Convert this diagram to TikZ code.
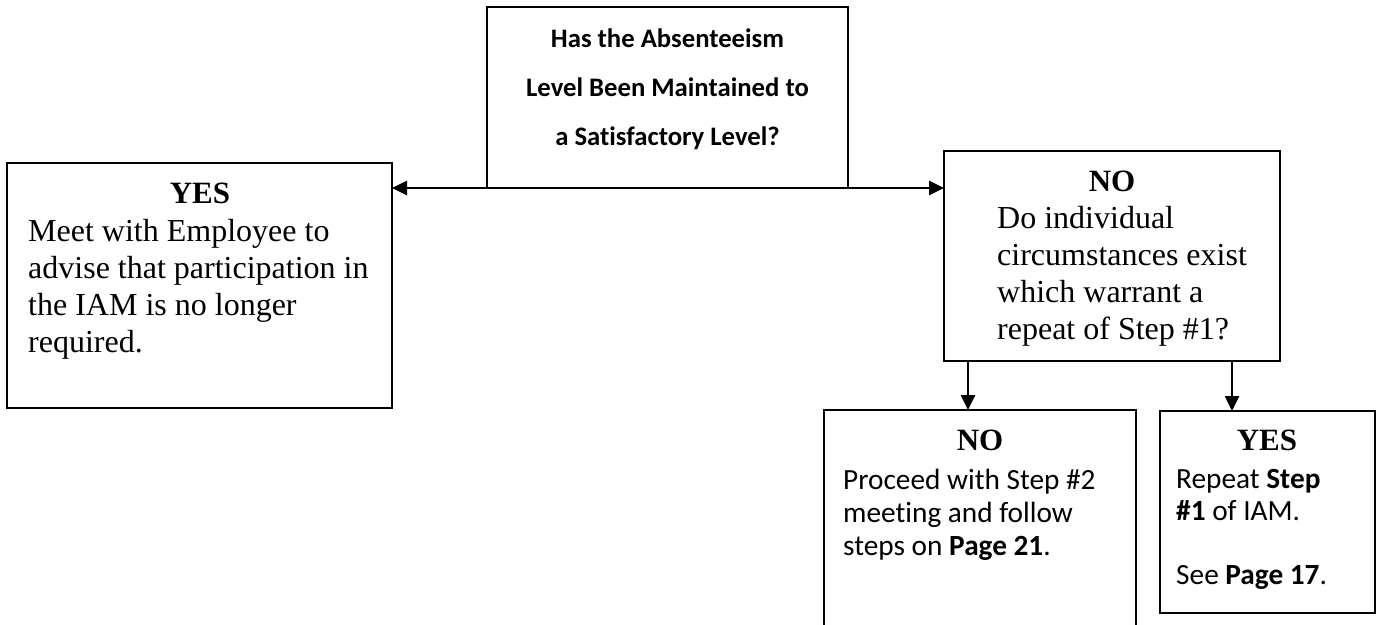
\documentclass[tikz,border=0pt]{standalone}
\usepackage{fontspec}
\setmainfont{Liberation Serif}[Ligatures=CommonOff]
\newfontfamily\calfont{Carlito}[Ligatures=CommonOff]
\usetikzlibrary{arrows.meta}
\begin{document}
\begin{tikzpicture}[x=1pt,y=-1pt,
  >={Triangle[length=15pt,width=14pt]},
  box/.style={draw, line width=2.6pt, rectangle, inner sep=0pt, outer sep=0pt, anchor=north west},
  conn/.style={line width=2.6pt},
  tnr/.style={font=\fontsize{32}{37}\selectfont, inner sep=0pt, anchor=base west},
  ttl/.style={font=\bfseries\fontsize{31}{37}\selectfont, inner sep=0pt, anchor=base},
  cal/.style={font=\calfont\fontsize{29.3}{32}\selectfont, inner sep=0pt, anchor=base west},
  calq/.style={font=\calfont\bfseries\fontsize{26.7}{30}\selectfont, inner sep=0pt, anchor=base}]
\useasboundingbox (0,0) rectangle (1378,624);
\fill[white] (0,0) rectangle (1378,624);
\clip (0,0) rectangle (1378,624);

% boxes
\node[box, minimum width=361pt, minimum height=181pt] (q) at (487,7) {};
\node[box, minimum width=385pt, minimum height=245pt] (yes) at (7,163) {};
\node[box, minimum width=336pt, minimum height=210pt] (no) at (944,151) {};
\node[box, minimum width=312pt, minimum height=250pt] (no2) at (824,410) {};
\node[box, minimum width=215pt, minimum height=202pt] (yes2) at (1160,411) {};

% question text
\node[calq] (q1) at (667.5,47) {Has the Absenteeism};
\node[calq] (q2) at (667.5,96) {Level Been Maintained to};
\node[calq] (q3) at (667.5,145) {a Satisfactory Level?};

% left YES
\node[ttl] (yt) at (200,203) {YES};
\node[tnr] (y1) at (28,241) {Meet with Employee to};
\node[tnr] (y2) at (28,278) {advise that participation in};
\node[tnr] (y3) at (28,315) {the IAM is no longer};
\node[tnr] (y4) at (28,352) {required.};

% right NO
\node[ttl] (nt) at (1112,191) {NO};
\node[tnr] (n1) at (997,228) {Do individual};
\node[tnr] (n2) at (997,265) {circumstances exist};
\node[tnr] (n3) at (997,302) {which warrant a};
\node[tnr] (n4) at (997,339) {repeat of Step \#1?};

% bottom NO
\node[ttl] (bt) at (980,450) {NO};
\node[cal] (b1) at (843,489) {Proceed with Step \#2};
\node[cal] (b2) at (843,522) {meeting and follow};
\node[cal] (b3) at (843,555) {steps on \textbf{Page 21}.};

% bottom YES
\node[ttl] (ct) at (1267,450) {YES};
\node[cal] (c1) at (1176,488) {Repeat \textbf{Step}};
\node[cal] (c2) at (1176,520) {\textbf{\#1} of IAM.};
\node[cal] (c3) at (1176,584) {See \textbf{Page 17}.};

% connectors
\draw[conn,<->] (yes.east |- q.south) -- (no.west |- q.south);
\path (no.south west) ++(24,0) coordinate (d1);
\path (no.south west) ++(288,0) coordinate (d2);
\draw[conn,->] (d1) -- (d1 |- no2.north);
\draw[conn,->] (d2) -- (d2 |- yes2.north);
\end{tikzpicture}
\end{document}
